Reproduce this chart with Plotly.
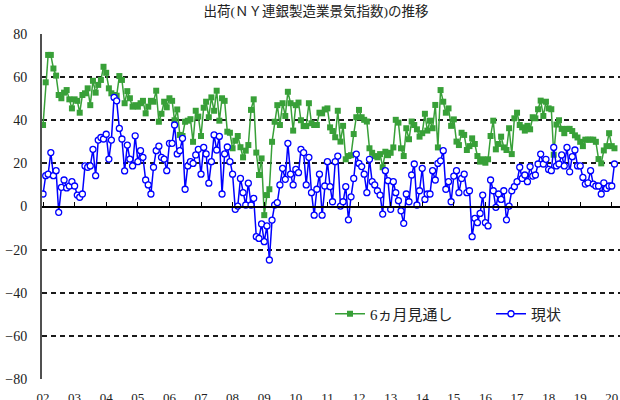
import pandas as pd
import plotly.graph_objects as go

outlook = [
    37.8, 57.6, 70.3, 70.3, 64, 60.7, 51.7, 50.2, 52.8, 54, 49.7, 45.5,
    49.7, 49, 43.5, 51.7, 52.5, 54.8, 47, 58.3, 52.8, 56.4, 58.7, 64.8,
    62, 54.8, 52.5, 51.7, 51.4, 60.5, 58.7, 47.9, 53.5, 50.2, 46.3, 47,
    46.3, 47.9, 49, 43.2, 46.3, 49, 48.6, 53.7, 39.3, 43, 48.6, 46,
    50.2, 49, 40, 45, 33.2, 32.7, 39.3, 39.8, 40.5, 30, 44.4, 41.7,
    32.7, 45.8, 48.6, 41.4, 50.6, 44.4, 53.7, 39.8, 50.2, 49, 34.7, 34.2,
    27, 30.5, 32.7, 27.5, 22.8, 25.9, 28.5, 44.8, 49.7, 25, 14.6, 22.3,
    -4, 5.3, 8, 30, 39.3, 47, 37.8, 47.9, 42, 53.2, 47.9, 35.2,
    47, 48.2, 40, 37.3, 37.3, 47.9, 38.6, 37.8, 37.8, 43.5, 43.2, 45,
    45.5, 36.7, 35, 32.1, 44.4, 30.1, 37.4, 21.9, 23.4, 23.8, 33.6, 41.4,
    44.8, 41.4, 40.2, 39.4, 27, 24.9, 23.4, 22.8, 24.3, 18.2, 25.4, 23.8,
    24.9, 27.4, 40.2, 38.9, 27, 23.4, 36.3, 31.2, 39.4, 37.8, 35.8, 32.4,
    34, 43, 35.2, 39.8, 36.3, 47.1, 27.4, 54, 48.6, 43.5, 45.5, 37.4,
    40.4, 30.1, 28.5, 34.2, 33.2, 26.2, 28, 31.6, 29, 23.4, 20.8, 21.9,
    20.3, 21.9, 32.7, 39.8, 26.5, 29, 32.4, 27.4, 26.2, 36.3, 24.3, 40.9,
    43.5, 37.8, 36.7, 35.2, 37.4, 35.8, 41.4, 40.9, 45.1, 49.1, 42, 48.6,
    45.5, 45.1, 24, 38, 40, 36, 34, 36, 36, 35, 33, 32,
    30, 28, 31, 31, 31, 31, 30, 22, 20, 26, 28, 34,
    28, 27,
]

current = [
    5.8, 14.3, 15, 25, 14.3, 16.6, -2.7, 8.9, 12.3, 8.6, 9.5, 11.5,
    9.5, 5.3, 4.3, 5.8, 18.8, 18.2, 18.8, 26.5, 14.3, 30.8, 32, 31.3,
    33.5, 22, 30.8, 50.6, 49, 36.2, 31.3, 16.5, 28.5, 22, 18.8, 32.8,
    20.8, 25.9, 22.8, 12.3, 10, 5.8, 18.2, 25.9, 28, 22.8, 22, 16.6,
    29.3, 29.3, 37.8, 24.4, 25.9, 31.6, 8, 18.8, 20.8, 20, 23.9, 26.5,
    15, 27.4, 24.4, 10.8, 20.8, 33.2, 26.2, 32.5, 5.8, 24.4, 27.6, 20.8,
    15, -1.3, 0.2, 13, 6.4, 0.7, 10.8, 0.7, 3.8, -14, -14.8, -8.1,
    -16.3, -9, -24.8, -6.3, 0.7, 1.8, 10, 17.7, 12.6, 29.3, 15, 10,
    17.2, 15.7, 26.5, 25, 10, 22.8, 6.4, -4, 8, 15, -4, 9.5,
    20.8, 9.2, 2.2, 20.8, 23.4, 0.2, 2.2, 9.2, -6.2, 4.5, 13, 24.3,
    20, 18.5, 15, 6.4, 21.9, 11.5, 10, 7.3, 5.3, -3.5, 16.6, 12,
    -1.3, 11.5, 6.4, 2.7, -2, -7.8, 5.8, 2.2, 14.6, 19.7, 0.7, 7.3,
    17.7, 3.3, 5.8, 5.8, 16.6, 12.3, 20, 21.2, 25.9, 8, 11.5, 2.2,
    14.1, 16.6, 6.4, 13, 15, 6.4, 7.3, -14, -5.5, -7.5, -3.2, 5.3,
    -7.5, -9, 12.3, 7.3, -0.4, 5.8, 3.3, 7.3, -6.2, 0.2, 7.3, 9.2,
    11.5, 18.2, 13, 14.6, 11.5, 18.5, 14.1, 14.6, 19.7, 24.3, 19.7, 21.9,
    17.2, 16.6, 27.4, 18.8, 19.7, 23.9, 18.8, 27.4, 16.1, 23.1, 26.2, 18.8,
    18.8, 13.5, 10.4, 11, 16.6, 10.4, 9.5, 9.5, 5.8, 11, 8.4, 9.5,
    9.5, 19.7,
]

months = pd.date_range("2002-01-01", periods=len(outlook), freq="MS")
year_ticks = pd.date_range("2002-01-01", "2020-01-01", freq="YS")
year_labels = ["02", "03", "04", "05", "06", "07", "08", "09", "10", "11",
               "12", "13", "14", "15", "16", "17", "18", "19", "20"]
y_ticks = [-80, -60, -40, -20, 0, 20, 40, 60, 80]

title_text = "出荷(ＮＹ連銀製造業景気指数)の推移"
name_outlook = "6ヵ月見通し"
name_current = "現状"

FONT = "Liberation Serif, 'Noto Sans CJK JP', serif"
GREEN = "#38a038"
BLUE = "#0000ff"
x_range = ["2001-12-20", "2020-04-05"]

fig = go.Figure()
fig.add_trace(go.Scatter(
    x=months, y=outlook, name=name_outlook, mode="lines+markers",
    line=dict(color=GREEN, width=1.5),
    marker=dict(symbol="square", size=6, color=GREEN),
))
fig.add_trace(go.Scatter(
    x=months, y=current, name=name_current, mode="lines+markers",
    line=dict(color=BLUE, width=1.5),
    marker=dict(symbol="circle", size=6, color="white",
                line=dict(color=BLUE, width=1.3)),
))
# helper trace to host the zero-line axis
fig.add_trace(go.Scatter(x=[months[0]], y=[None], xaxis="x2",
                         showlegend=False, hoverinfo="skip"))

fig.update_layout(
    width=620, height=400,
    margin=dict(l=42, r=0, t=34, b=21, autoexpand=False),
    paper_bgcolor="white", plot_bgcolor="white",
    font=dict(family=FONT, size=14, color="#222"),
    title=dict(text=title_text, x=316 / 620, xanchor="center",
               y=1 - 11 / 400, yanchor="middle",
               font=dict(family=FONT, size=13.5, color="#222")),
    showlegend=True,
    hovermode=False,
    legend=dict(orientation="h", x=(330 - 42) / 578, xanchor="left",
                y=(379 - 314) / 345, yanchor="middle",
                bgcolor="rgba(0,0,0,0)", entrywidth=116,
                font=dict(family=FONT, size=15, color="#222")),
    xaxis=dict(
        type="date", range=x_range, tickvals=year_ticks, ticktext=year_labels,
        showgrid=False, zeroline=False, showline=False, ticks="",
        ticklabelstandoff=9, automargin=False,
        tickfont=dict(family=FONT, size=13, color="#222"),
    ),
    xaxis2=dict(
        type="date", range=x_range, overlaying="x", anchor="free",
        position=0.5, side="top", showline=True, linecolor="black",
        linewidth=1.5, ticks="outside", ticklen=4, tickwidth=1.2,
        tickcolor="black", tickvals=year_ticks, showticklabels=False,
        showgrid=False, zeroline=False, automargin=False,
    ),
    yaxis=dict(
        range=[-80, 80], tickvals=y_ticks, showgrid=True,
        gridcolor="#1a1a1a", griddash="5px,4px", gridwidth=1.5,
        zeroline=False, showline=True, linecolor="#505050", linewidth=2,
        ticks="", ticklabelstandoff=10, automargin=False,
        tickfont=dict(family=FONT, size=14, color="#222"),
    ),
)

fig.write_html(
    "out.html",
    config={"displayModeBar": False},
    post_script="document.body.style.margin='0';document.body.style.overflow='hidden';",
)
